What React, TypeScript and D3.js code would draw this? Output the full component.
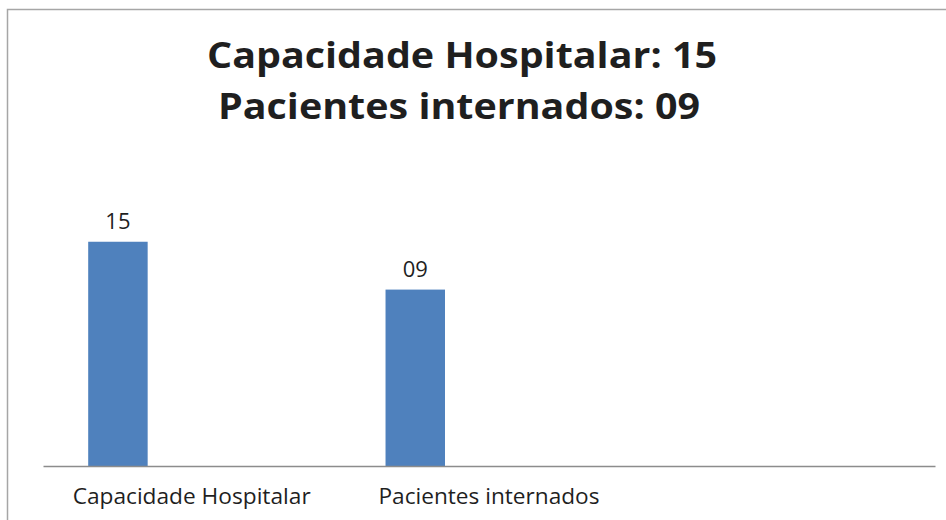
import * as d3 from "d3";
import React, { useEffect, useRef } from "react";

// chart data
const categories = ["Capacidade Hospitalar", "Pacientes internados", ""];
const series = ["Série 1", "Série 2", "Série 3"];
const values = [15, 11.8]; // bar heights
const valueLabels = ["15", "09"];
const titleLines = ["Capacidade Hospitalar: 15", "Pacientes internados: 09"];
const yDomain = [0, 20];

const App = () => {
  const svgRef = useRef<SVGSVGElement>(null);

  useEffect(() => {
    const width = 946;
    const height = 520;
    const plot = { left: 43, right: 935, bottom: 466, top: 167 };

    const svg = d3.select(svgRef.current);
    svg.selectAll("*").remove();
    svg.attr("width", width).attr("height", height).attr("viewBox", `0 0 ${width} ${height}`);

    svg.append("rect").attr("width", width).attr("height", height).attr("fill", "#fff");

    // outer chart frame (right / bottom edges are cut off in the original)
    svg
      .append("rect")
      .attr("x", 7.5)
      .attr("y", 9.5)
      .attr("width", 980)
      .attr("height", 560)
      .attr("fill", "none")
      .attr("stroke", "#a6a6a6")
      .attr("stroke-width", 1.5);

    // title
    const titleWidths = [510, 482];
    svg
      .append("g")
      .selectAll("text")
      .data(titleLines)
      .join("text")
      .attr("x", (_, i) => (i === 0 ? 462 : 459))
      .attr("y", (_, i) => 67.5 + i * 51)
      .attr("text-anchor", "middle")
      .attr("font-family", "'Open Sans', sans-serif")
      .attr("font-weight", "bold")
      .attr("font-size", 36.5)
      .attr("fill", "#1f1f1f")
      .attr("textLength", (_, i) => titleWidths[i])
      .attr("lengthAdjust", "spacingAndGlyphs")
      .text((d) => d);

    const x = d3.scaleBand<string>().domain(categories).range([plot.left, plot.right]).padding(0);
    const xs = d3
      .scaleBand<string>()
      .domain(series)
      .range([0, x.bandwidth()])
      .paddingInner(0)
      .paddingOuter(1)
      .align(0.38);
    const y = d3.scaleLinear().domain(yDomain).range([plot.bottom, plot.top]);

    const data = values.map((v, i) => ({ cat: categories[i], v, label: valueLabels[i] }));

    // bars (first series only)
    svg
      .append("g")
      .selectAll("rect")
      .data(data)
      .join("rect")
      .attr("x", (d) => (x(d.cat) as number) + (xs(series[0]) as number))
      .attr("y", (d) => y(d.v))
      .attr("width", xs.bandwidth())
      .attr("height", (d) => y(0) - y(d.v))
      .attr("fill", "#4f81bd");

    // value labels
    svg
      .append("g")
      .selectAll("text")
      .data(data)
      .join("text")
      .attr("x", (d) => (x(d.cat) as number) + (xs(series[0]) as number) + xs.bandwidth() / 2)
      .attr("y", (d) => y(d.v) - 13)
      .attr("text-anchor", "middle")
      .attr("font-family", "'Open Sans', sans-serif")
      .attr("font-size", 22)
      .attr("fill", "#1f1f1f")
      .text((d) => d.label);

    // category axis
    const xAxis = d3.axisBottom(x).tickSize(0).tickSizeOuter(0);
    const labelWidths = [238, 221, 0];
    svg
      .append("g")
      .attr("transform", `translate(0, ${plot.bottom})`)
      .call(xAxis)
      .call((g) => {
        g.select(".domain").attr("stroke", "#8c8c8c").attr("stroke-width", 1.5);
        g.selectAll(".tick text")
          .attr("y", 38)
          .attr("dy", 0)
          .attr("font-family", "'Open Sans', sans-serif")
          .attr("font-size", 22)
          .attr("fill", "#1f1f1f")
          .each(function (d, i) {
            if (labelWidths[i]) {
              d3.select(this)
                .attr("textLength", labelWidths[i])
                .attr("lengthAdjust", "spacingAndGlyphs");
            }
          });
      });
  });

  return <svg ref={svgRef} style={{ position: "absolute", left: 0, top: 0 }} />;
};

export default App;
